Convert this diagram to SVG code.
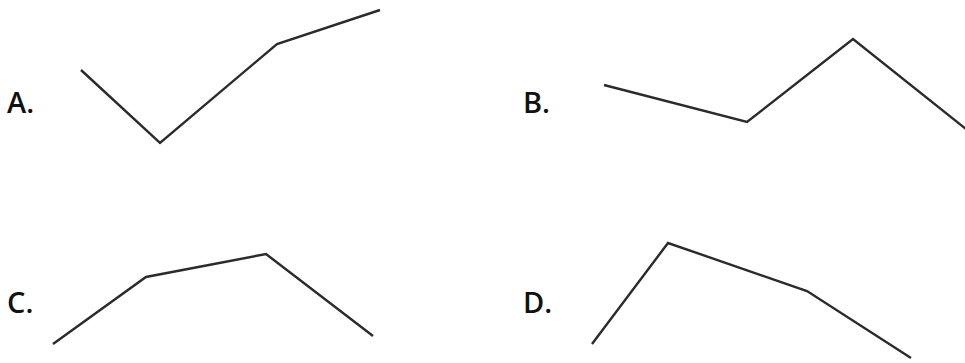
<svg xmlns="http://www.w3.org/2000/svg" width="965" height="363" viewBox="0 0 965 363">
<style>
.l{fill:none;stroke:#2b2b2b;stroke-width:2.4;stroke-linejoin:miter}
.t{font-family:"Open Sans","Liberation Sans",sans-serif;font-size:29px;font-weight:600;fill:#111}
</style>
<rect width="965" height="363" fill="#fff"/>
<g id="A"><text class="t" x="7" y="113">A.</text><polyline class="l" points="81,70 160,143 277,44 380,10"/></g>
<g id="B"><text class="t" x="523" y="113">B.</text><polyline class="l" points="604,85 747,122 853,39 966,129"/></g>
<g id="C"><text class="t" x="7" y="313">C.</text><polyline class="l" points="53,344 146,277 266,254 373,336"/></g>
<g id="D"><text class="t" x="523" y="313">D.</text><polyline class="l" points="592,344 668,243 807,291 911,358"/></g>
</svg>
